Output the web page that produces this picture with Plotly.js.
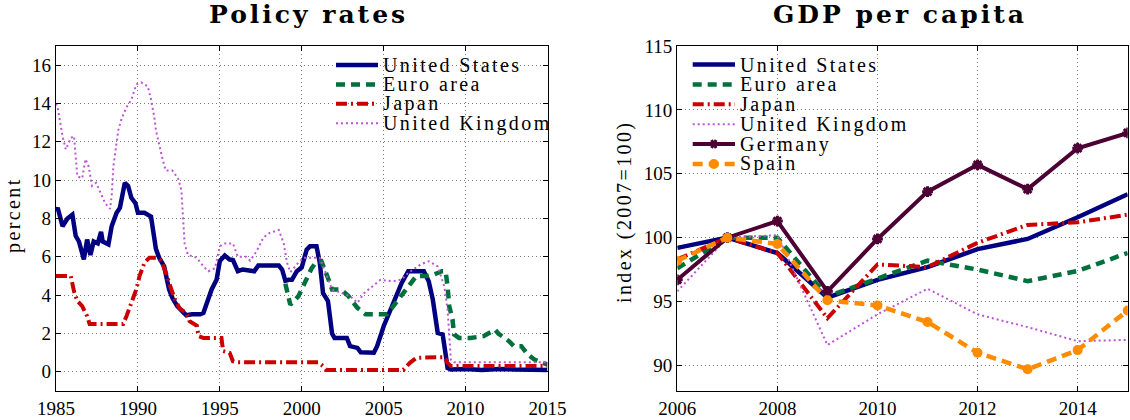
<!DOCTYPE html>
<html>
<head>
<meta charset="utf-8">
<script src="https://cdn.plot.ly/plotly-3.0.1.min.js"></script>
<style>
html,body{margin:0;padding:0;background:#fff;}
#chart{width:1130px;height:420px;}
</style>
</head>
<body>
<div id="chart"></div>
<script>
// ---------------- Policy rates (percent) ----------------
const usX = [1985.0,1985.1,1985.4,1985.7,1986.0,1986.2,1986.4,1986.7,1986.9,1987.1,1987.3,1987.55,1987.75,1987.85,1988.2,1988.4,1988.7,1988.9,1989.2,1989.4,1989.6,1989.85,1990.0,1990.4,1990.8,1990.9,1991.1,1991.3,1991.6,1991.9,1992.1,1992.4,1992.75,1992.95,1993.3,1993.8,1994.0,1994.3,1994.5,1994.8,1995.0,1995.3,1995.6,1995.8,1996.1,1996.4,1996.8,1997.1,1997.35,1998.05,1998.6,1998.8,1999.0,1999.2,1999.4,1999.7,2000.0,2000.3,2000.5,2000.9,2001.1,2001.3,2001.6,2001.85,2002.0,2002.75,2002.95,2003.4,2003.6,2004.4,2004.6,2005.0,2005.6,2006.1,2006.5,2007.45,2007.75,2008.0,2008.3,2008.6,2008.8,2008.9,2009.1,2010.0,2011.0,2012.0,2013.0,2014.0,2015.0];
const usY = [8.4,8.56,7.6,8.0,8.2,7.1,6.8,5.87,6.9,6.1,6.8,6.7,7.3,6.8,6.65,7.6,8.3,8.55,9.86,9.7,9.08,8.8,8.3,8.3,8.1,7.6,6.4,5.95,5.5,4.3,3.86,3.43,3.17,2.95,3.0,3.0,3.08,3.78,4.3,4.8,5.78,6.07,5.86,5.83,5.25,5.34,5.3,5.25,5.55,5.55,5.55,5.34,4.75,4.8,4.8,5.25,5.45,6.38,6.55,6.55,5.7,4.1,3.7,2.0,1.77,1.77,1.34,1.25,1.02,1.0,1.34,2.38,3.6,4.64,5.25,5.25,4.73,3.77,2.03,1.95,0.82,0.2,0.12,0.15,0.1,0.15,0.12,0.1,0.1];

const euX = [1999.0,1999.3,1999.8,2000.2,2000.6,2000.9,2001.2,2001.6,2001.85,2002.4,2002.85,2003.4,2003.9,2005.2,2005.6,2006.0,2006.5,2007.0,2007.65,2008.05,2008.55,2008.78,2008.9,2009.0,2009.2,2009.3,2009.6,2010.3,2011.1,2011.4,2011.8,2012.0,2012.65,2012.95,2013.4,2013.8,2014.2,2014.7,2015.0];
const euY = [4.6,3.5,3.95,4.64,5.4,5.75,5.77,4.9,4.3,4.3,3.95,3.34,3.0,3.0,3.43,3.86,4.47,5.0,5.0,5.07,5.25,5.25,4.47,3.43,2.73,1.95,1.77,1.77,1.86,2.03,2.2,2.0,1.6,1.34,1.34,0.9,0.64,0.47,0.38];

const jpX = [1985.0,1985.9,1986.1,1986.3,1986.6,1986.9,1987.05,1989.1,1989.3,1989.6,1989.9,1990.1,1990.4,1990.7,1991.1,1991.4,1991.7,1992.0,1992.25,1992.55,1992.95,1993.15,1993.6,1993.7,1994.0,1995.1,1995.2,1995.6,1995.8,1996.0,2001.0,2001.3,2001.5,2006.2,2006.6,2007.0,2008.7,2008.9,2009.1,2015.0];
const jpY = [5.0,5.0,4.2,3.7,3.43,2.9,2.5,2.5,2.9,3.6,4.3,5.0,5.7,5.95,5.95,5.8,5.2,4.4,3.8,3.3,3.08,2.64,2.4,1.86,1.77,1.77,1.08,0.99,0.55,0.5,0.5,0.3,0.1,0.1,0.47,0.73,0.77,0.47,0.3,0.3];

const ukX = [1985.0,1985.1,1985.2,1985.3,1985.4,1985.6,1985.9,1986.1,1986.2,1986.3,1986.6,1986.8,1987.0,1987.2,1987.45,1987.75,1988.0,1988.3,1988.4,1988.5,1988.7,1988.8,1989.0,1989.3,1989.6,1989.9,1990.2,1990.6,1990.8,1991.0,1991.1,1991.3,1991.5,1991.7,1992.1,1992.45,1992.65,1992.75,1992.85,1993.05,1993.6,1994.0,1994.3,1994.7,1995.0,1995.3,1995.8,1996.1,1996.6,1996.85,1997.25,1997.65,1998.05,1998.6,1998.9,1999.1,1999.3,1999.8,2000.1,2001.1,2001.3,2001.6,2001.85,2002.95,2003.4,2003.8,2004.3,2004.8,2005.6,2006.1,2006.5,2007.25,2007.75,2008.3,2008.7,2008.9,2009.0,2009.1,2009.3,2015.0];
const ukY = [14.0,13.8,13.3,12.7,12.3,11.6,12.2,12.3,11.1,10.2,10.1,11.1,10.7,9.7,9.86,9.3,8.8,8.5,9.2,10.7,11.8,12.6,13.2,13.8,14.2,15.0,15.1,14.9,14.2,13.3,12.6,11.8,11.1,10.5,10.5,10.1,9.5,8.1,6.7,6.1,5.95,5.5,5.25,5.4,6.55,6.7,6.7,6.0,6.0,5.8,6.3,7.0,7.25,7.4,6.7,5.7,5.2,5.7,5.95,5.95,5.5,4.8,4.3,3.95,3.6,4.1,4.47,4.8,4.73,4.82,5.16,5.6,5.77,5.5,4.47,3.25,2.0,0.64,0.5,0.5];

// ---------------- GDP per capita (index, 2007=100) ----------------
const gdpYears = [2006,2007,2008,2009,2010,2011,2012,2013,2014,2015];
const gdpUS = [99.2,100,98.8,95.3,96.7,97.7,99.1,99.9,101.6,103.4];
const gdpEuro = [97.6,100,100.0,95.4,96.8,98.2,97.5,96.6,97.4,98.8];
const gdpJapan = [98.3,100,98.8,93.7,97.9,97.7,99.6,101.0,101.2,101.8];
const gdpUK = [95.8,100,100.2,91.6,94.0,96.0,94.0,93.0,91.9,92.0];
const gdpGermany = [96.7,100,101.3,95.8,99.9,103.6,105.7,103.8,107.0,108.2];
const gdpSpain = [98.2,100,99.5,95.1,94.7,93.4,91.0,89.7,91.2,94.3];

// tick labels
const rateTicks = [1985,1990,1995,2000,2005,2010,2015];
const rateYTicks = [0,2,4,6,8,10,12,14,16];
const gdpXTicks = [2006,2008,2010,2012,2014];
const gdpYTicks = [90,95,100,105,110,115];

const leftNames = ['United States','Euro area','Japan','United Kingdom'];
const rightNames = ['United States','Euro area','Japan','United Kingdom','Germany','Spain'];

[[usX,usY],[euX,euY],[jpX,jpY],[ukX,ukY]].forEach(function(p,i){
  if(p[0].length!==p[1].length) throw new Error('length mismatch in series '+i+': '+p[0].length+' vs '+p[1].length);
});

// styles
const C = {us:'#000080', eu:'#00703c', jp:'#cc0000', uk:'#bb55d4', de:'#4d0033', es:'#ff8c00'};
const ST = {
  'United States': {color:C.us, width:4.5, dash:'solid'},
  'Euro area': {color:C.eu, width:4.5, dash:'9px,6px'},
  'Japan': {color:C.jp, width:4, dash:'11px,4px,2px,4px'},
  'United Kingdom': {color:C.uk, width:2, dash:'2px,3px'},
  'Germany': {color:C.de, width:4, dash:'solid'},
  'Spain': {color:C.es, width:4.5, dash:'10px,6px'}
};

const W = 1130, H = 420;
const fx = v => v / W, fy = v => 1 - v / H;

function ln(name, x, y, xa, ya, extra){
  const s = ST[name];
  return Object.assign({type:'scatter', mode:'lines', name:name, x:x, y:y, xaxis:xa, yaxis:ya,
    line:{color:s.color, width:s.width, dash:s.dash}, showlegend:false, hoverinfo:'skip'}, extra||{});
}

const traces = [
  ln('United States', usX, usY, 'x', 'y'),
  ln('Euro area', euX, euY, 'x', 'y'),
  ln('Japan', jpX, jpY, 'x', 'y'),
  ln('United Kingdom', ukX, ukY, 'x', 'y'),
  ln('United States', gdpYears, gdpUS, 'x2', 'y2'),
  ln('Euro area', gdpYears, gdpEuro, 'x2', 'y2'),
  ln('Japan', gdpYears, gdpJapan, 'x2', 'y2'),
  ln('United Kingdom', gdpYears, gdpUK, 'x2', 'y2'),
  ln('Germany', gdpYears, gdpGermany, 'x2', 'y2', {mode:'lines+markers',
     marker:{symbol:'asterisk-open', size:9, color:C.de, line:{color:C.de, width:3}}}),
  ln('Spain', gdpYears, gdpSpain, 'x2', 'y2', {mode:'lines+markers',
     marker:{symbol:'circle', size:10, color:C.es, line:{width:0}}})
];

const tickFont = {family:'Liberation Serif', size:19, color:'#000'};
function axis(extra){
  return Object.assign({
    showline:true, linecolor:'#000', linewidth:1.3, mirror:'ticks',
    ticks:'inside', ticklen:5, tickwidth:1, tickcolor:'#000',
    showgrid:true, gridcolor:'#7a7a7a', gridwidth:1, griddash:'1px,3px',
    zeroline:false, tickfont:tickFont, fixedrange:true
  }, extra);
}

const yDom = [fy(391), fy(46)];
const layout = {
  width:W, height:H, margin:{l:0,r:0,t:0,b:0},
  paper_bgcolor:'#fff', plot_bgcolor:'#fff', showlegend:false,
  xaxis: axis({domain:[fx(56), fx(547.5)], range:[1985,2015], tickvals:rateTicks, ticktext:rateTicks.map(String), anchor:'y'}),
  yaxis: axis({domain:yDom, range:[-1,17], tickvals:rateYTicks, ticktext:rateYTicks.map(String), anchor:'x'}),
  xaxis2: axis({domain:[fx(677.3), fx(1127.7)], range:[2006,2015], tickvals:gdpXTicks, ticktext:gdpXTicks.map(String), anchor:'y2'}),
  yaxis2: axis({domain:yDom, range:[88,115], tickvals:gdpYTicks, ticktext:gdpYTicks.map(String), anchor:'x2'}),
  annotations: [], shapes: []
};

const sp = (t, ls) => '<span style="letter-spacing:' + ls + 'px">' + t + '</span>';
const textFont = {family:'Liberation Serif', size:20, color:'#000'};
const titleFont = {family:'DejaVu Serif', size:25, color:'#000'};

// subplot titles
layout.annotations.push({xref:'paper', yref:'paper', x:fx(207), y:fy(15), xanchor:'left', yanchor:'middle',
  text:'<b>' + sp('Policy rates', 3) + '</b>', showarrow:false, font:titleFont});
layout.annotations.push({xref:'paper', yref:'paper', x:fx(771), y:fy(15), xanchor:'left', yanchor:'middle',
  text:'<b>' + sp('GDP per capita', 3) + '</b>', showarrow:false, font:titleFont});

// axis titles
layout.annotations.push({xref:'paper', yref:'paper', x:fx(14), y:fy(215), xanchor:'center', yanchor:'middle',
  textangle:-90, text:sp('percent', 2.4), showarrow:false, font:textFont});
layout.annotations.push({xref:'paper', yref:'paper', x:fx(624), y:fy(212), xanchor:'center', yanchor:'middle',
  textangle:-90, text:sp('index (2007=100)', 2.4), showarrow:false, font:textFont});

// custom legends
function legend(names, x0, x1, xt, top, step){
  names.forEach(function(n, i){
    const y = top + i * step;
    const s = ST[n];
    layout.shapes.push({type:'line', xref:'paper', yref:'paper', x0:fx(x0), x1:fx(x1), y0:fy(y), y1:fy(y),
      line:{color:s.color, width:s.width, dash:s.dash}});
    const xm = fx((x0 + x1) / 2);
    if(n === 'Germany'){
      layout.shapes.push({type:'path', xref:'paper', yref:'paper', xsizemode:'pixel', ysizemode:'pixel',
        xanchor:xm, yanchor:fy(y), path:'M-4.5,0L4.5,0M-2.3,-4L2.3,4M-2.3,4L2.3,-4',
        line:{color:s.color, width:3}});
    }
    if(n === 'Spain'){
      layout.shapes.push({type:'circle', xref:'paper', yref:'paper', xsizemode:'pixel', ysizemode:'pixel',
        xanchor:xm, yanchor:fy(y), x0:-5, x1:5, y0:-5, y1:5, fillcolor:s.color, line:{width:0}});
    }
    layout.annotations.push({xref:'paper', yref:'paper', x:fx(xt), y:fy(y), xanchor:'left', yanchor:'middle',
      text:sp(n, 2.4), showarrow:false, font:textFont});
  });
}
legend(leftNames, 336, 378, 381, 65, 19.4);
legend(rightNames, 692.7, 735, 738, 64.5, 19.9);

Plotly.newPlot('chart', traces, layout, {staticPlot:true, displayModeBar:false});
</script>
</body>
</html>
